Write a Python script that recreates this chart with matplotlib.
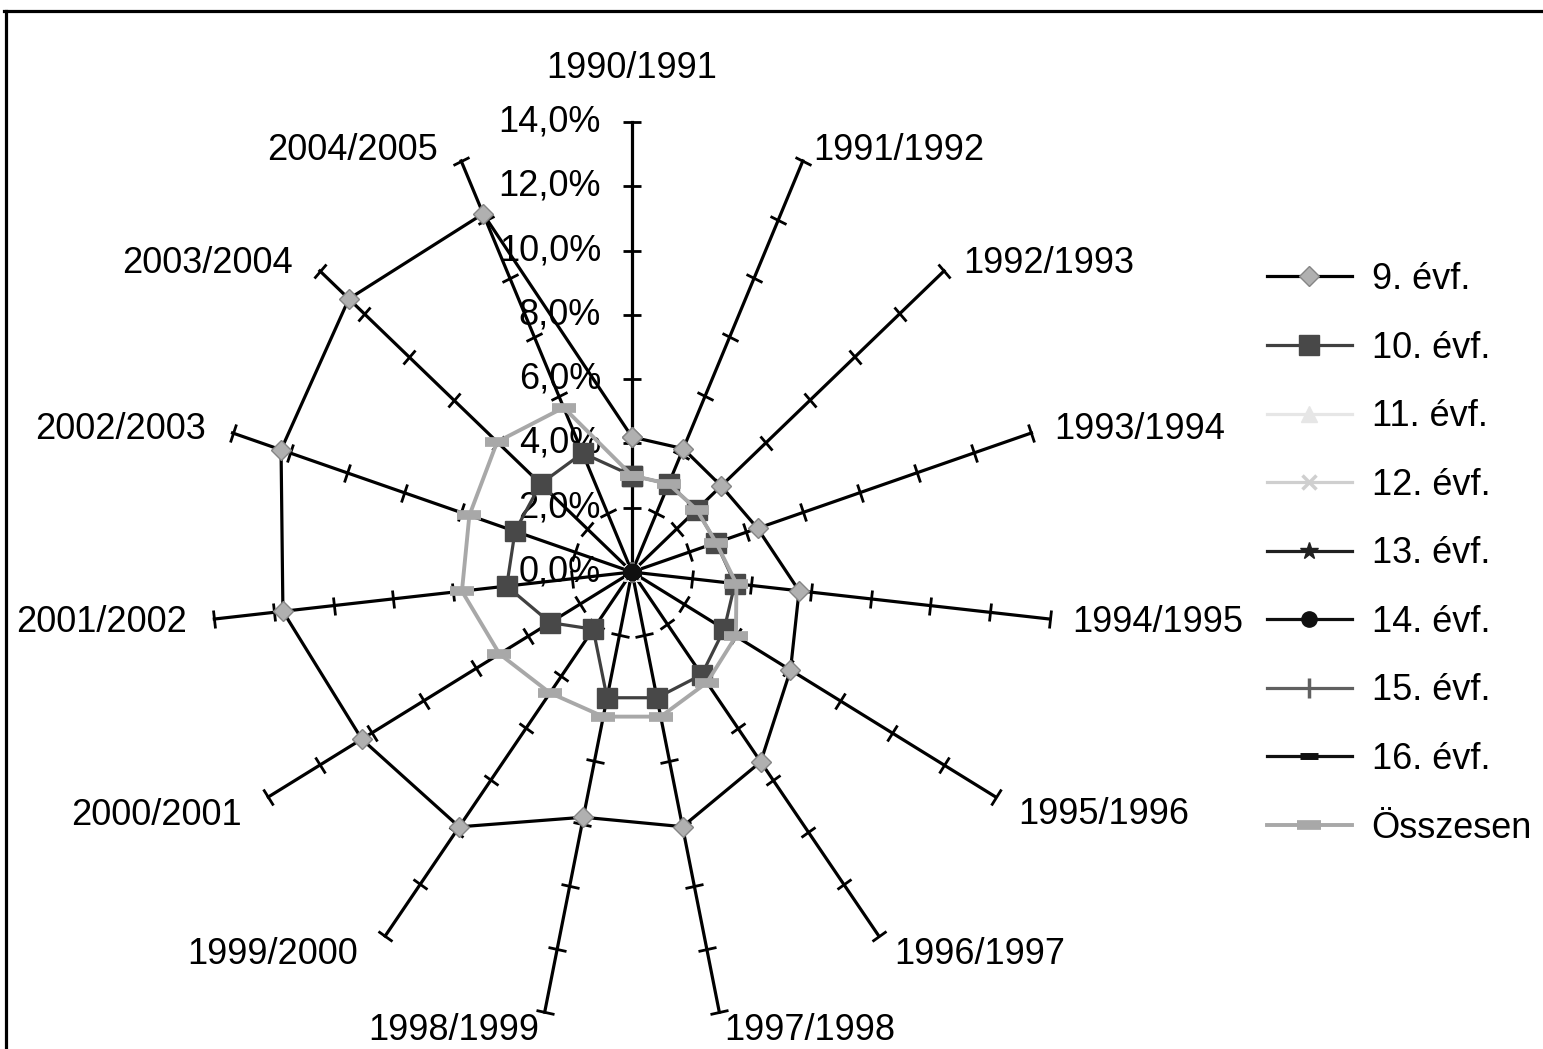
import numpy as np
import matplotlib
matplotlib.use('Agg')
import matplotlib.pyplot as plt
from matplotlib.markers import MarkerStyle
from matplotlib.transforms import Affine2D
from matplotlib.lines import Line2D

plt.rcParams['font.family'] = ['Liberation Sans', 'DejaVu Sans']

categories = ['1990/1991', '1991/1992', '1992/1993', '1993/1994', '1994/1995',
              '1995/1996', '1996/1997', '1997/1998', '1998/1999', '1999/2000',
              '2000/2001', '2001/2002', '2002/2003', '2003/2004', '2004/2005']

evf9 = [4.2, 4.2, 4.0, 4.4, 5.6, 6.1, 7.3, 8.1, 7.8, 9.8, 10.4, 11.7, 12.3, 12.7, 12.2]
evf10 = [3.0, 3.0, 2.9, 2.95, 3.45, 3.55, 3.95, 4.0, 4.0, 2.2, 3.15, 4.2, 4.1, 4.1, 4.05]
evf11 = [0, 0, 0, 0, 0, 0, 0, 0, 0, 0, 0, 0, 0, 0, 0]
evf12 = [0, 0, 0, 0, 0, 0, 0, 0, 0, 0, 0, 0, 0, 0, 0]
evf13 = [0, 0, 0, 0, 0, 0, 0, 0, 0, 0, 0, 0, 0, 0, 0]
evf14 = [0, 0, 0, 0, 0, 0, 0, 0, 0, 0, 0, 0, 0, 0, 0]
evf15 = [0, 0, 0, 0, 0, 0, 0, 0, 0, 0, 0, 0, 0, 0, 0]
evf16 = [0, 0, 0, 0, 0, 0, 0, 0, 0, 0, 0, 0, 0, 0, 0]
osszesen = [3.0, 3.0, 2.9, 2.95, 3.5, 4.0, 4.25, 4.6, 4.6, 4.65, 5.1, 5.7, 5.7, 6.05, 5.6]

series_names = ['9. évf.', '10. évf.', '11. évf.', '12. évf.', '13. évf.',
                '14. évf.', '15. évf.', '16. évf.', 'Összesen']

r_ticks = [0, 2, 4, 6, 8, 10, 12, 14]
r_tick_labels = ['0,0%', '2,0%', '4,0%', '6,0%', '8,0%', '10,0%', '12,0%', '14,0%']

FS = 26
W, H = 1543, 1049
fig = plt.figure(figsize=(W / 100, H / 100), dpi=100)
ax = fig.add_axes([212 / W, (H - 1022) / H, 840 / W, 900 / H], projection='polar')
ax.set_aspect('auto')
ax.set_theta_zero_location('N')
ax.set_theta_direction(-1)
ax.set_ylim(0, r_ticks[-1])
ax.grid(False)
ax.spines['polar'].set_visible(False)
ax.set_xticks([])
ax.set_yticks([])
ax.patch.set_visible(False)

n = len(categories)
theta = np.arange(n) * 2 * np.pi / n
rmax = r_ticks[-1]

# spokes with perpendicular ticks
for i, t in enumerate(theta):
    ax.plot([t, t], [0, rmax], color='black', lw=2.3, zorder=1, clip_on=False)
    m = MarkerStyle('_', transform=Affine2D().rotate_deg(-np.degrees(t)))
    ax.plot([t] * (len(r_ticks) - 1), r_ticks[1:], linestyle='none', marker=m,
            markersize=13, markeredgewidth=2.0, color='black', zorder=1, clip_on=False)
    # category label
    s, c = np.sin(t), np.cos(t)
    if i == 0:
        ha, dx, dy = 'center', 0, 54
    else:
        ha = 'left' if s > 0 else 'right'
        if abs(c) > 0.95:
            dx = np.sign(s) * 5
        elif s > 0:
            dx = min(23, 26 * s)
        else:
            dx = -min(27, 5 + 45 * abs(s))
        dy = 11 * c if c >= 0 else -18 * min(1, abs(c) / 0.5)
    ax.annotate(categories[i], xy=(t, rmax), xytext=(dx, dy), textcoords='offset pixels',
                ha=ha, va='center', fontsize=FS, annotation_clip=False)

# radial tick labels on the first spoke
for r, lab in zip(r_ticks, r_tick_labels):
    ax.annotate(lab, xy=(0, r), xytext=(-31, 0), textcoords='offset pixels',
                ha='right', va='center', fontsize=FS, annotation_clip=False)

def closed(v):
    return list(v) + [v[0]]

th = list(theta) + [theta[0]]

styles = [
    dict(color='black', lw=2.3, marker='D', ms=10.5, mfc='#b0b0b0', mec='#858585', mew=1),
    dict(color='#404040', lw=2.3, marker='s', ms=14, mfc='#484848', mec='#484848'),
    dict(color='#e6e6e6', lw=2.3, marker='^', ms=12, mfc='#e6e6e6', mec='#e6e6e6'),
    dict(color='#cfcfcf', lw=2.3, marker='x', ms=10, mew=2.5, mec='#cfcfcf'),
    dict(color='#202020', lw=2.3, marker='*', ms=13, mfc='#202020', mec='#202020'),
    dict(color='#101010', lw=2.3, marker='o', ms=11, mfc='#101010', mec='#101010'),
    dict(color='#606060', lw=2.3, marker='|', ms=14, mew=2.5, mec='#606060'),
    dict(color='#101010', lw=2.3, marker='_', ms=13, mew=5, mec='#101010'),
    dict(color='#a8a8a8', lw=2.8, marker='_', ms=17, mew=7, mec='#a8a8a8'),
]
data = [evf9, evf10, evf11, evf12, evf13, evf14, evf15, evf16, osszesen]
zord = [3, 4, 3, 3, 4.5, 6, 4.5, 4.5, 5]
handles = []
for name, vals, st, z in zip(series_names, data, styles, zord):
    ln, = ax.plot(th, closed(vals), label=name, zorder=z, clip_on=False, **st)
    handles.append(ln)

fig.legend(handles, series_names, loc='upper left',
           bbox_to_anchor=(1267 / W, 1 - 262 / H), frameon=False,
           fontsize=FS, handlelength=2.35, handletextpad=0.55,
           labelspacing=0.93, borderpad=0, borderaxespad=0)

# frame (only top and left edges are visible in the original crop)
fig.add_artist(Line2D([5.5 / W, 5.5 / W], [0, 1 - 10.5 / H], transform=fig.transFigure,
                      color='black', lw=2.3))
fig.add_artist(Line2D([4 / W, 1], [1 - 10.5 / H, 1 - 10.5 / H], transform=fig.transFigure,
                      color='black', lw=2.3))

fig.savefig('out.png', dpi=100)
